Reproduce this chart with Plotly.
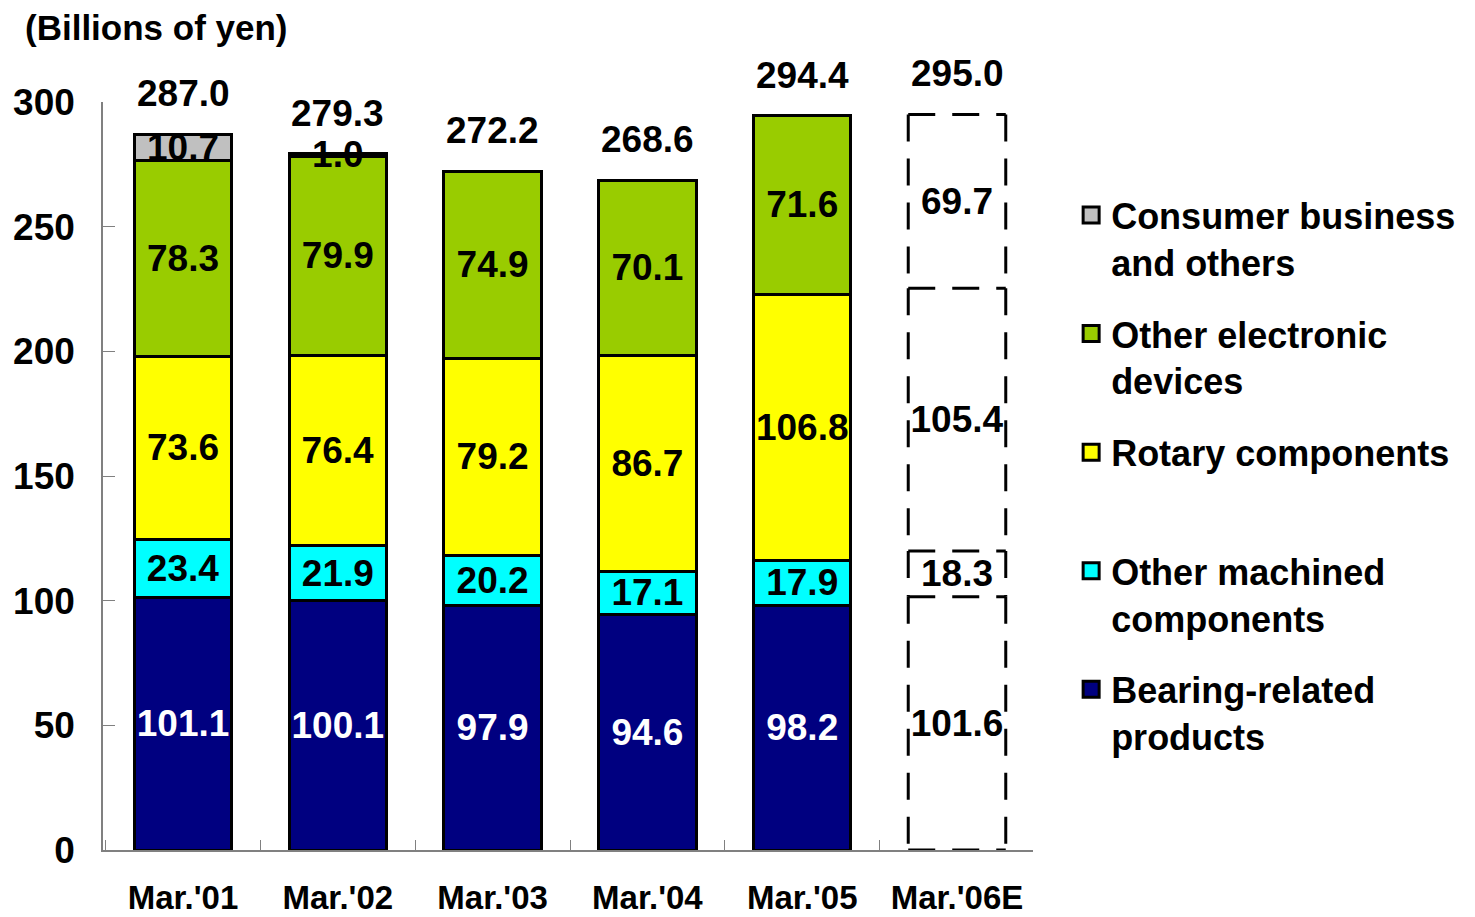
import plotly.graph_objects as go

# ── Data (billions of yen) ───────────────────────────────────
categories = ["Mar.'01", "Mar.'02", "Mar.'03", "Mar.'04", "Mar.'05", "Mar.'06E"]
bearing    = [101.1, 100.1, 97.9, 94.6, 98.2, 101.6]
machined   = [23.4, 21.9, 20.2, 17.1, 17.9, 18.3]
rotary     = [73.6, 76.4, 79.2, 86.7, 106.8, 105.4]
electronic = [78.3, 79.9, 74.9, 70.1, 71.6, 69.7]
consumer   = [10.7, 1.0, None, None, None, None]
totals     = [287.0, 279.3, 272.2, 268.6, 294.4, 295.0]

# last column is an estimate: drawn as dashed empty boxes
estimate = [False, False, False, False, False, True]

FONT = "Liberation Sans, Arial, sans-serif"
BAR_W = 0.63
DASH = dict(color="black", width=3, dash="27px,17px")

# page body adds an 8px margin, so the figure is sized to fit inside it
W, H = 1467, 909

series = [
    ("Bearing-related<br>products",          bearing,    "#000080", "white"),
    ("Other machined<br>components",         machined,   "#00FFFF", "black"),
    ("Rotary components<br> ",               rotary,     "#FFFF00", "black"),
    ("Other electronic<br>devices",          electronic, "#99CC00", "black"),
    ("Consumer business<br>and others",      consumer,   "#C0C0C0", "black"),
]

fig = go.Figure()

for k, (name, vals, color, tcolor) in enumerate(series):
    rank = len(series) - k   # top of stack listed first
    fig.add_trace(go.Bar(
        x=categories,
        y=vals,
        name=name,
        legendgroup=name,
        legendrank=rank,
        showlegend=False,
        width=BAR_W,
        marker=dict(
            color=["rgba(0,0,0,0)" if e else color for e in estimate],
            line=dict(color="black", width=[0 if e else 3 for e in estimate]),
        ),
        text=[f"{v:.1f}" if v is not None else "" for v in vals],
        textposition="inside",
        insidetextanchor="middle",
        textangle=0,
        constraintext="none",
        textfont=dict(family=FONT, size=37, weight="bold",
                      color=["black" if e else tcolor for e in estimate]),
        hoverinfo="skip",
    ))
    # legend-only entry with a bigger square swatch
    fig.add_trace(go.Scatter(
        x=[None], y=[None],
        mode="markers",
        name=name,
        legendgroup=name,
        legendrank=rank,
        marker=dict(symbol="square", size=16, color=color,
                    line=dict(color="black", width=3)),
        hoverinfo="skip",
    ))

# dashed outline boxes for the estimated column
for i, e in enumerate(estimate):
    if not e:
        continue
    x0, x1 = i - BAR_W / 2, i + BAR_W / 2
    bounds = [0.0]
    for _, vals, _, _ in series:
        if vals[i] is not None:
            bounds.append(bounds[-1] + vals[i])
    for y in bounds:
        fig.add_shape(type="line", xref="x", yref="y",
                      x0=x0, x1=x1, y0=y, y1=y, line=DASH)
    for lo, hi in zip(bounds[:-1], bounds[1:]):
        for xx in (x0, x1):
            fig.add_shape(type="line", xref="x", yref="y",
                          x0=xx, x1=xx, y0=hi, y1=lo, line=DASH)

# totals above each column
for cat, tot in zip(categories, totals):
    fig.add_annotation(
        x=cat, y=tot, text=f"{tot:.1f}", showarrow=False,
        yanchor="bottom", yshift=18,
        font=dict(family=FONT, size=37, weight="bold", color="black"),
    )

fig.update_layout(
    barmode="stack",
    width=W,
    height=H,
    paper_bgcolor="white",
    plot_bgcolor="white",
    margin=dict(l=95, r=442, t=94, b=67),
    title=dict(
        text="(Billions of yen)",
        x=17 / W, xref="container", xanchor="left",
        y=1 - 20 / H, yref="container", yanchor="middle",
        font=dict(family=FONT, size=35, weight="bold", color="black"),
    ),
    xaxis=dict(
        type="category",
        range=[-0.517, 5.491],
        automargin=False,
        showline=True, linecolor="#808080", linewidth=1.5,
        ticks="inside", tickson="boundaries", ticklen=10, tickcolor="#808080",
        ticklabelstandoff=18,
        tickfont=dict(family=FONT, size=33, weight="bold", color="black"),
        showgrid=False,
    ),
    yaxis=dict(
        range=[0, 300], dtick=50,
        automargin=False,
        showline=True, linecolor="#808080", linewidth=1.5,
        ticks="inside", ticklen=12, tickcolor="#808080",
        ticklabelstandoff=19,
        tickfont=dict(family=FONT, size=37, weight="bold", color="black"),
        showgrid=False, zeroline=False,
    ),
    legend=dict(
        x=1.041, y=0.889, xanchor="left", yanchor="top",
        traceorder="grouped",
        valign="top",
        tracegroupgap=22,
        font=dict(family=FONT, size=36, weight="bold", color="black"),
    ),
    showlegend=True,
)

fig.write_html("out.html")
